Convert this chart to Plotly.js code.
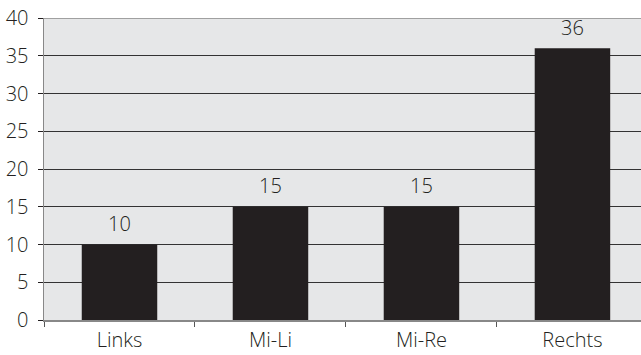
<!DOCTYPE html>
<html>
<head>
<meta charset="utf-8">
<script src="https://cdn.plot.ly/plotly-3.0.1.min.js"></script>
<style>html,body{margin:0;padding:0;background:#fff;}#chart{width:641px;height:355px;}</style>
</head>
<body>
<div id="chart"></div>
<script>
const categories = ["Links", "Mi-Li", "Mi-Re", "Rechts"];
const values = [10, 15, 15, 36];
const yTicks = [0, 5, 10, 15, 20, 25, 30, 35, 40];

const FONT = "'Open Sans', sans-serif";
const TXT = "#231f20";
const FS = 20;

const trace = {
  type: "bar",
  x: categories,
  y: values,
  width: 0.5,
  marker: {color: "#231f20", line: {width: 0}},
  hoverinfo: "none"
};

const annotations = categories.map((c, i) => ({
  x: c, y: values[i], xref: "x", yref: "y",
  text: String(values[i]),
  showarrow: false,
  yanchor: "middle",
  yshift: 21,
  font: {family: FONT, size: FS, color: TXT, weight: 300}
}));

const layout = {
  width: 641,
  height: 355,
  margin: {l: 44, r: 0, t: 18, b: 35},
  paper_bgcolor: "#ffffff",
  plot_bgcolor: "#e6e7e8",
  showlegend: false,
  bargap: 0.5,
  font: {family: FONT, size: FS, color: TXT, weight: 300},
  xaxis: {
    type: "category",
    range: [-0.5, 3.454],
    tickson: "boundaries",
    ticks: "outside",
    ticklen: 5,
    tickcolor: "#555",
    tickwidth: 1,
    showline: true,
    linecolor: "#888",
    linewidth: 1.5,
    showgrid: false,
    ticklabelstandoff: 1,
    tickfont: {family: FONT, size: FS, color: TXT, weight: 300},
    fixedrange: true
  },
  yaxis: {
    range: [0, 40],
    tickvals: yTicks,
    ticktext: yTicks.map(String),
    ticks: "outside",
    ticklen: 5,
    tickcolor: "#231f20",
    tickwidth: 1,
    showline: true,
    linecolor: "#888",
    linewidth: 1.5,
    showgrid: true,
    gridcolor: "#333333",
    gridwidth: 1,
    zeroline: false,
    ticklabelstandoff: 5,
    tickfont: {family: FONT, size: FS, color: TXT, weight: 300},
    fixedrange: true
  },
  annotations: annotations,
  shapes: [{
    type: "line", xref: "paper", yref: "y",
    x0: 0, x1: 1, y0: 40, y1: 40,
    line: {color: "#888", width: 1.5},
    layer: "above"
  }]
};

Plotly.newPlot("chart", [trace], layout, {displayModeBar: false, staticPlot: true});
</script>
</body>
</html>
